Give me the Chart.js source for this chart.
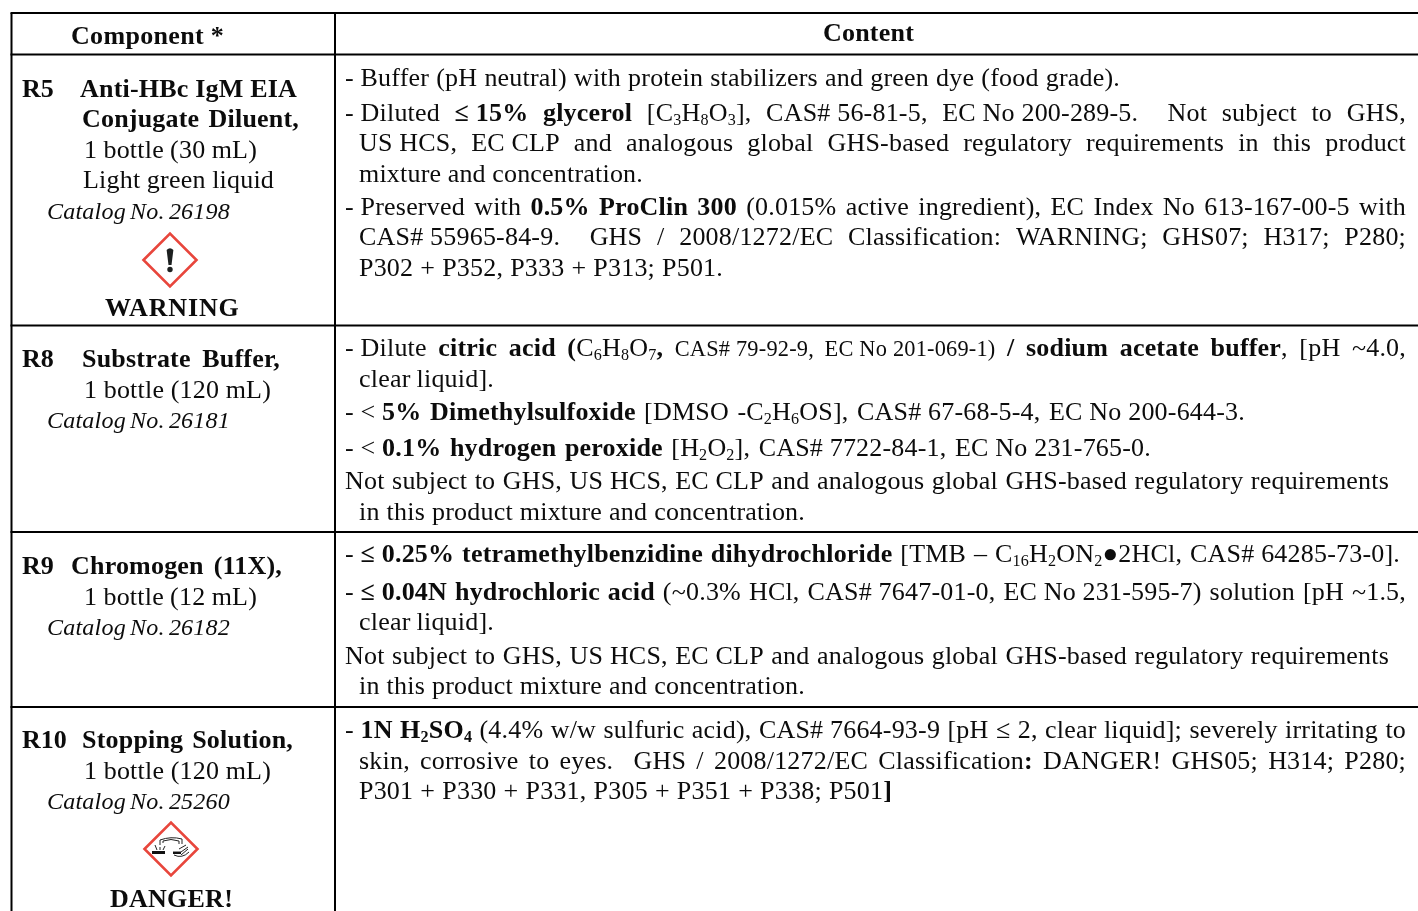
<!DOCTYPE html>
<html>
<head>
<meta charset="utf-8">
<title>Kit components</title>
<style>
  html, body { margin: 0; padding: 0; background: #fff; overflow: hidden; }
  canvas { display: block; }
</style>
<script src="https://cdn.jsdelivr.net/npm/chart.js@4/dist/chart.umd.js"></script>
</head>
<body>
<canvas id="sheet" width="1418" height="911"></canvas>
<script>
// the words of the table. tags: b, i, sub, small. a ~ right after a word is a space that keeps its width when a line is justified
const componentLines = [
  "<b>Component~*</b>",
  "<b>R5</b>", "<b>Anti-HBc IgM EIA</b>", "<b>Conjugate Diluent,</b>", "1 bottle (30 mL)", "Light green liquid",
  "<i>Catalog No. 26198</i>", "<b>WARNING</b>",
  "<b>R8</b>", "<b>Substrate Buffer,</b>", "1 bottle (120 mL)", "<i>Catalog No. 26181</i>",
  "<b>R9</b>", "<b>Chromogen (11X),</b>", "1 bottle (12 mL)", "<i>Catalog No. 26182</i>",
  "<b>R10</b>", "<b>Stopping Solution,</b>", "1 bottle (120 mL)", "<i>Catalog No. 25260</i>", "<b>DANGER!</b>"
];
const componentLeft  = [71, 22, 80, 82, 84, 83, 47, 105, 22, 82, 84, 47, 22, 71, 84, 47, 22, 82, 84, 47, 110];
const componentRight = [224, 54, 297, 299, 257, 274, 230, 239, 54, 280, 271, 230, 54, 282, 257, 230, 67, 293, 271, 230, 233];
const componentBase  = [44, 97, 97, 127, 158, 188, 219, 316, 367, 367, 398, 428, 574, 574, 605, 635, 748, 748, 779, 809, 907];

const contentLines = [
  "<b>Content</b>",
  "-~Buffer (pH neutral) with protein stabilizers and green dye (food grade).",
  "-~Diluted <b>≤~15% glycerol</b> [C<sub>3</sub>H<sub>8</sub>O<sub>3</sub>], CAS#~56-81-5, EC~No~200-289-5.  Not subject to GHS,",
  "US~HCS, EC~CLP and analogous global GHS-based regulatory requirements in this product",
  "mixture and concentration.",
  "-~Preserved with <b>0.5% ProClin 300</b> (0.015% active ingredient), EC Index No 613-167-00-5 with",
  "CAS#~55965-84-9.  GHS / 2008/1272/EC Classification: WARNING; GHS07; H317; P280;",
  "P302 + P352, P333 + P313; P501.",
  "-~Dilute <b>citric acid (</b>C<sub>6</sub>H<sub>8</sub>O<sub>7</sub><b>,</b> <small>CAS#~79-92-9, EC~No~201-069-1)</small> <b>/ sodium acetate buffer</b>, [pH ~4.0,",
  "clear liquid].",
  "-~&lt;~<b>5% Dimethylsulfoxide</b> [DMSO -C<sub>2</sub>H<sub>6</sub>OS], CAS#~67-68-5-4, EC~No~200-644-3.",
  "-~&lt;~<b>0.1% hydrogen peroxide</b> [H<sub>2</sub>O<sub>2</sub>], CAS#~7722-84-1, EC~No~231-765-0.",
  "Not subject to GHS, US~HCS, EC~CLP and analogous global GHS-based regulatory requirements",
  "in this product mixture and concentration.",
  "-~<b>≤~0.25% tetramethylbenzidine dihydrochloride</b> [TMB – C<sub>16</sub>H<sub>2</sub>ON<sub>2</sub>●2HCl, CAS#~64285-73-0].",
  "-~<b>≤~0.04N hydrochloric acid</b> (~0.3% HCl, CAS#~7647-01-0, EC~No~231-595-7) solution [pH ~1.5,",
  "clear liquid].",
  "Not subject to GHS, US~HCS, EC~CLP and analogous global GHS-based regulatory requirements",
  "in this product mixture and concentration.",
  "-~<b>1N H<sub>2</sub>SO<sub>4</sub></b> (4.4% w/w sulfuric acid), CAS#~7664-93-9 [pH ≤ 2, clear liquid]; severely irritating to",
  "skin, corrosive to eyes.  GHS / 2008/1272/EC Classification<b>:</b> DANGER! GHS05; H314; P280;",
  "P301 + P330 + P331, P305 + P351 + P338; P501<b>]</b>"
];
const contentLeft  = [823, 345, 345, 359, 359, 345, 359, 359, 345, 359, 345, 345, 345, 359, 345, 345, 359, 345, 359, 345, 359, 359];
const contentRight = [914, 1120, 1406, 1406, 643, 1406, 1406, 723, 1406, 494, 1245, 1151, 1389, 805, 1400, 1406, 494, 1389, 805, 1406, 1406, 892];
const contentBase  = [41, 86, 121, 151, 182, 215, 245, 276, 356, 387, 420, 456, 489, 520, 562, 600, 630, 664, 694, 738, 769, 799];

// table rules
const rowRuleY = [13, 54.5, 325.5, 532, 707];
const columnRuleX = [11.5, 335];
const tableRight = 1418;
const tableBottom = 911;

// hazard pictograms
const hazardX = [170, 171];
const hazardY = [260, 849];
const hazardNames = ["exclamation", "corrosion"];

const FONT = '"Liberation Serif"';
const BASE_SIZE = 26;
const TRACKING = 0.2;

function parseRuns(markup) {
  const runs = [];
  const state = { b: false, i: false, sub: false, small: false };
  markup.split(/(<\/?(?:b|i|sub|small)>)/).forEach(part => {
    const tag = part.match(/^<(\/?)(b|i|sub|small)>$/);
    if (tag) { state[tag[2]] = !tag[1]; return; }
    if (part) runs.push({ text: part.replace(/&lt;/g, "<"), ...state });
  });
  return runs;
}

function runFont(run) {
  let size = BASE_SIZE;
  if (run.i) size = BASE_SIZE * 0.925;
  if (run.small) size = BASE_SIZE * 0.86;
  if (run.sub) size = BASE_SIZE * 0.62;
  return (run.i ? "italic " : "") + (run.b ? "bold " : "") + size + "px " + FONT;
}

// ~ after a space or bracket is a real tilde (pH ~4.0), anywhere else a fixed space
function fixedSpaces(text) {
  return text.replace(/([^ (])~/g, "$1\u00A0");
}

// lays a line out between two x values by stretching the word gaps
function drawLine(ctx, markup, left, right, base) {
  const pieces = [];
  let spaces = 0, total = 0;
  ctx.letterSpacing = TRACKING + "px";
  parseRuns(fixedSpaces(markup)).forEach(run => {
    ctx.font = runFont(run);
    run.text.split(/( )/).forEach(word => {
      if (!word) return;
      const w = ctx.measureText(word).width;
      pieces.push({ word, w, run });
      total += w;
      if (word === " ") spaces++;
    });
  });
  const extra = spaces ? (right - left - total) / spaces : 0;
  const letter = spaces ? 0 : (right - left - total) / Math.max(1, markup.replace(/<[^>]+>/g, "").length - 1);
  let x = left;
  pieces.forEach(p => {
    if (p.word === " ") { x += p.w + extra; return; }
    ctx.font = runFont(p.run);
    ctx.letterSpacing = (TRACKING + letter) + "px";
    ctx.fillText(p.word, x, base + (p.run.sub ? 4 : 0));
    x += p.w + letter * p.word.length;
  });
  ctx.letterSpacing = "0px";
}

function drawExclamation(ctx, x, y) {
  ctx.fillStyle = "#1c2020";
  ctx.beginPath();
  ctx.moveTo(x - 3.4, y - 10);
  ctx.quadraticCurveTo(x, y - 13.5, x + 3.4, y - 10);
  ctx.lineTo(x + 1.5, y + 5);
  ctx.lineTo(x - 1.5, y + 5);
  ctx.closePath();
  ctx.fill();
  ctx.beginPath();
  ctx.arc(x, y + 9.5, 2.7, 0, Math.PI * 2);
  ctx.fill();
}

function drawCorrosion(ctx, x, y) {
  ctx.strokeStyle = "#222";
  ctx.fillStyle = "#111";
  ctx.lineWidth = 1;
  // surface on the left
  ctx.fillRect(x - 19, y + 2, 13, 3);
  // the two tubes
  ctx.beginPath();
  ctx.moveTo(x - 11, y - 4); ctx.lineTo(x - 11, y - 9); ctx.quadraticCurveTo(x, y - 13, x + 11, y - 10); ctx.lineTo(x + 11, y - 5);
  ctx.moveTo(x - 8, y - 6); ctx.lineTo(x - 8, y - 8); ctx.quadraticCurveTo(x, y - 11, x + 8, y - 8); ctx.lineTo(x + 8, y - 5);
  ctx.stroke();
  // drops and splashes
  ctx.beginPath();
  ctx.moveTo(x - 14, y + 1); ctx.lineTo(x - 16, y - 4);
  ctx.moveTo(x - 11, y + 1); ctx.lineTo(x - 11, y - 2);
  ctx.moveTo(x - 8, y + 1); ctx.lineTo(x - 6, y - 3);
  ctx.stroke();
  // the hand on the right
  ctx.beginPath();
  ctx.moveTo(x + 2, y + 3); ctx.lineTo(x + 10, y + 3); ctx.lineTo(x + 17, y - 2);
  ctx.moveTo(x + 3, y + 6); ctx.quadraticCurveTo(x + 11, y + 10, x + 18, y + 3);
  ctx.moveTo(x + 8, y); ctx.lineTo(x + 15, y - 4);
  ctx.moveTo(x + 10, y + 6); ctx.lineTo(x + 17, y);
  ctx.stroke();
  ctx.fillRect(x + 2, y + 3, 8, 2);
}

const tableText = {
  id: "tableText",
  afterDatasetsDraw(chart) {
    const ctx = chart.ctx;
    const sx = chart.scales.x, sy = chart.scales.y;
    ctx.save();
    ctx.fillStyle = "#0c0c0c";
    ctx.textBaseline = "alphabetic";
    ctx.textAlign = "left";
    componentLines.forEach((line, i) => drawLine(ctx, line,
      sx.getPixelForValue(componentLeft[i]), sx.getPixelForValue(componentRight[i]), sy.getPixelForValue(componentBase[i])));
    contentLines.forEach((line, i) => drawLine(ctx, line,
      sx.getPixelForValue(contentLeft[i]), sx.getPixelForValue(contentRight[i]), sy.getPixelForValue(contentBase[i])));
    hazardNames.forEach((name, i) => {
      const px = sx.getPixelForValue(hazardX[i]), py = sy.getPixelForValue(hazardY[i]);
      if (name === "exclamation") drawExclamation(ctx, px, py);
      else drawCorrosion(ctx, px, py);
    });
    ctx.restore();
  }
};

const ruleSets = [];
rowRuleY.forEach(y => ruleSets.push({
  data: [{ x: columnRuleX[0] - 1, y: y }, { x: tableRight, y: y }],
  showLine: true, borderColor: "#000", borderWidth: 2, pointRadius: 0
}));
columnRuleX.forEach(x => ruleSets.push({
  data: [{ x: x, y: rowRuleY[0] }, { x: x, y: tableBottom }],
  showLine: true, borderColor: "#000", borderWidth: 2, pointRadius: 0
}));

const hazardSet = {
  data: hazardX.map((x, i) => ({ x: x, y: hazardY[i] })),
  showLine: false,
  pointStyle: "rectRot",
  pointRadius: 26.5,
  pointBorderWidth: 2.6,
  pointBorderColor: "#e8463c",
  pointBackgroundColor: "#fff"
};

new Chart(document.getElementById("sheet"), {
  type: "scatter",
  data: { datasets: ruleSets.concat([hazardSet]) },
  plugins: [tableText],
  options: {
    responsive: false,
    animation: false,
    devicePixelRatio: 1,
    layout: { padding: 0, autoPadding: false },
    plugins: { legend: { display: false }, tooltip: { enabled: false } },
    scales: {
      x: { type: "linear", min: 0, max: 1418, display: false },
      y: { type: "linear", min: 0, max: 911, reverse: true, display: false }
    }
  }
});
</script>
</body>
</html>
